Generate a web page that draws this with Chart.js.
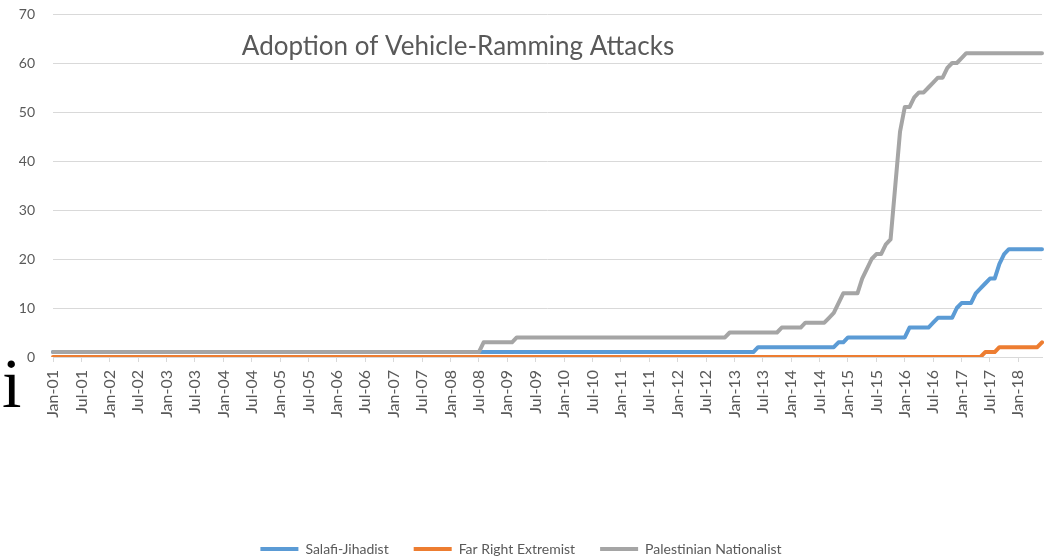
<!DOCTYPE html>
<html>
<head>
<meta charset="utf-8">
<script src="https://cdn.jsdelivr.net/npm/chart.js@4"></script>
<style>
  html, body { margin: 0; padding: 0; background: #ffffff; }
  #wrap { position: relative; width: 1051px; height: 558px; }
</style>
</head>
<body>
<div id="wrap"><canvas id="c" width="1051" height="558"></canvas></div>
<script>
// ---- categories: monthly, Jan-01 .. Jun-18 ----
const monthNames = ['Jan','Feb','Mar','Apr','May','Jun','Jul','Aug','Sep','Oct','Nov','Dec'];
const yearLabels = ['01','02','03','04','05','06','07','08','09','10','11','12','13','14','15','16','17','18'];
const lastMonthOfLastYear = 6; // data ends Jun-18
const categories = [];
yearLabels.forEach((yy, yi) => {
  const n = yi === yearLabels.length - 1 ? lastMonthOfLastYear : 12;
  for (let m = 0; m < n; m++) categories.push(monthNames[m] + '-' + yy);
});

// ---- series (one row per year, Jan..Dec) ----
const salafiJihadist = [
  1,1,1,1,1,1,1,1,1,1,1,1,
  1,1,1,1,1,1,1,1,1,1,1,1,
  1,1,1,1,1,1,1,1,1,1,1,1,
  1,1,1,1,1,1,1,1,1,1,1,1,
  1,1,1,1,1,1,1,1,1,1,1,1,
  1,1,1,1,1,1,1,1,1,1,1,1,
  1,1,1,1,1,1,1,1,1,1,1,1,
  1,1,1,1,1,1,1,1,1,1,1,1,
  1,1,1,1,1,1,1,1,1,1,1,1,
  1,1,1,1,1,1,1,1,1,1,1,1,
  1,1,1,1,1,1,1,1,1,1,1,1,
  1,1,1,1,1,1,1,1,1,1,1,1,
  1,1,1,1,1,2,2,2,2,2,2,2,
  2,2,2,2,2,2,2,2,2,2,3,3,
  4,4,4,4,4,4,4,4,4,4,4,4,
  4,6,6,6,6,6,7,8,8,8,8,10,
  11,11,11,13,14,15,16,16,19,21,22,22,
  22,22,22,22,22,22
];
const farRightExtremist = [
  0,0,0,0,0,0,0,0,0,0,0,0,
  0,0,0,0,0,0,0,0,0,0,0,0,
  0,0,0,0,0,0,0,0,0,0,0,0,
  0,0,0,0,0,0,0,0,0,0,0,0,
  0,0,0,0,0,0,0,0,0,0,0,0,
  0,0,0,0,0,0,0,0,0,0,0,0,
  0,0,0,0,0,0,0,0,0,0,0,0,
  0,0,0,0,0,0,0,0,0,0,0,0,
  0,0,0,0,0,0,0,0,0,0,0,0,
  0,0,0,0,0,0,0,0,0,0,0,0,
  0,0,0,0,0,0,0,0,0,0,0,0,
  0,0,0,0,0,0,0,0,0,0,0,0,
  0,0,0,0,0,0,0,0,0,0,0,0,
  0,0,0,0,0,0,0,0,0,0,0,0,
  0,0,0,0,0,0,0,0,0,0,0,0,
  0,0,0,0,0,0,0,0,0,0,0,0,
  0,0,0,0,0,1,1,1,2,2,2,2,
  2,2,2,2,2,3
];
const palestinianNationalist = [
  1,1,1,1,1,1,1,1,1,1,1,1,
  1,1,1,1,1,1,1,1,1,1,1,1,
  1,1,1,1,1,1,1,1,1,1,1,1,
  1,1,1,1,1,1,1,1,1,1,1,1,
  1,1,1,1,1,1,1,1,1,1,1,1,
  1,1,1,1,1,1,1,1,1,1,1,1,
  1,1,1,1,1,1,1,1,1,1,1,1,
  1,1,1,1,1,1,1,3,3,3,3,3,
  3,3,4,4,4,4,4,4,4,4,4,4,
  4,4,4,4,4,4,4,4,4,4,4,4,
  4,4,4,4,4,4,4,4,4,4,4,4,
  4,4,4,4,4,4,4,4,4,4,4,5,
  5,5,5,5,5,5,5,5,5,5,6,6,
  6,6,6,7,7,7,7,7,8,9,11,13,
  13,13,13,16,18,20,21,21,23,24,35,46,
  51,51,53,54,54,55,56,57,57,59,60,60,
  61,62,62,62,62,62,62,62,62,62,62,62,
  62,62,62,62,62,62
];
const seriesNames = ['Salafi-Jihadist', 'Far Right Extremist', 'Palestinian Nationalist'];
const seriesColors = ['#5B9BD5', '#ED7D31', '#A5A5A5'];
const yMin = 0, yMax = 70, yStep = 10;
const labelEvery = 6;
const chartTitle = 'Adoption of Vehicle-Ramming Attacks';
const strayGlyph = 'i';

Chart.defaults.font.family = 'Lato, "Open Sans", sans-serif';
Chart.defaults.color = '#595959';

const titlePlugin = {
  id: 'overlayTitle',
  beforeDatasetsDraw(chart) {
    const ctx = chart.ctx;
    ctx.save();
    ctx.font = '26px Lato, "Open Sans", sans-serif';
    ctx.fillStyle = '#595959';
    ctx.textAlign = 'center';
    ctx.textBaseline = 'alphabetic';
    ctx.fillText(chartTitle, 458, 55);
    ctx.restore();
  }
};
const glyphPlugin = {
  id: 'strayGlyph',
  afterDraw(chart) {
    const ctx = chart.ctx;
    ctx.save();
    ctx.font = '70px "Liberation Serif", serif';
    ctx.fillStyle = '#000000';
    ctx.textAlign = 'left';
    ctx.textBaseline = 'alphabetic';
    ctx.fillText(strayGlyph, 2, 407);
    ctx.restore();
  }
};

const mk = (i, data, order) => ({
  label: seriesNames[i],
  data: data,
  borderColor: seriesColors[i],
  backgroundColor: seriesColors[i],
  borderWidth: 4,
  pointRadius: 0,
  pointHoverRadius: 0,
  tension: 0,
  borderJoinStyle: 'round',
  borderCapStyle: 'round',
  order: order,
  fill: false
});

new Chart(document.getElementById('c'), {
  type: 'line',
  data: {
    labels: categories,
    datasets: [
      mk(0, salafiJihadist, 2),
      mk(1, farRightExtremist, 1),
      mk(2, palestinianNationalist, 0)
    ]
  },
  options: {
    animation: false,
    responsive: false,
    events: [],
    layout: { padding: { top: 14, right: 9, bottom: -8, left: 0 } },
    plugins: {
      title: { display: false },
      tooltip: { enabled: false },
      legend: {
        position: 'bottom',
        labels: {
          usePointStyle: true,
          pointStyle: 'line',
          pointStyleWidth: 38,
          padding: 25,
          color: '#595959',
          font: { size: 14 },
          sort: (a, b) => a.datasetIndex - b.datasetIndex
        }
      }
    },
    scales: {
      x: {
        grid: {
          drawOnChartArea: false,
          drawTicks: true,
          tickLength: 5,
          tickColor: (c) => (c.index % labelEvery === 0 ? '#D9D9D9' : 'rgba(0,0,0,0)')
        },
        border: { display: true, color: '#D9D9D9' },
        ticks: {
          autoSkip: false,
          maxRotation: 90,
          minRotation: 90,
          padding: 8,
          color: '#595959',
          font: { size: 16 },
          callback: function (v, i) { return i % labelEvery === 0 ? this.getLabelForValue(v) : ''; }
        },
        afterFit: (s) => { s.height = 160; s.paddingLeft = 0; s.paddingRight = 0; }
      },
      y: {
        min: yMin,
        max: yMax,
        ticks: { stepSize: yStep, padding: 18, color: '#595959', font: { size: 14 } },
        grid: { color: '#D9D9D9', drawTicks: false },
        border: { display: false },
        afterFit: (s) => { s.width = 53; s.paddingTop = 0; s.paddingBottom = 0; }
      }
    }
  },
  plugins: [titlePlugin, glyphPlugin]
});
</script>
</body>
</html>
